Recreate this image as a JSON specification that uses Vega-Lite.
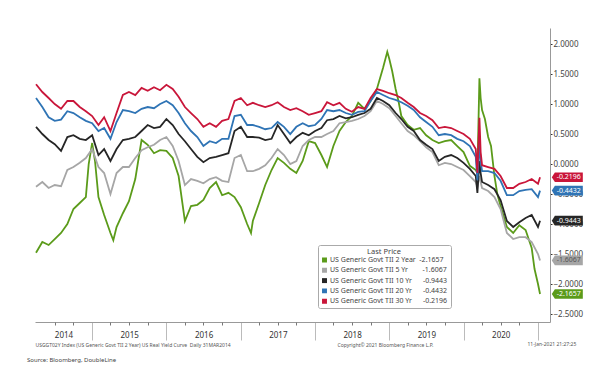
{
  "$schema": "https://vega.github.io/schema/vega-lite/v6.json",
  "width": 515,
  "height": 294,
  "autosize": {"type": "none"},
  "padding": {"left": 35, "top": 28, "right": 50, "bottom": 62},
  "background": "white",
  "config": {"font": "Noto Sans", "view": {"stroke": null}, "axis": {"labelOverlap": false}},
  "title": {"text": "Source: Bloomberg, DoubleLine", "orient": "bottom", "anchor": "start", "fontSize": 6, "fontWeight": "normal", "color": "#444", "dx": -8, "offset": 10},
  "datasets": {
    "series": [
      {"d": "2014-03-31", "g2": -1.48, "g5": -0.38, "g10": 0.62, "g20": 1.10, "g30": 1.33},
      {"d": "2014-05-01", "g2": -1.30, "g5": -0.30, "g10": 0.50, "g20": 0.95, "g30": 1.20},
      {"d": "2014-06-01", "g2": -1.35, "g5": -0.40, "g10": 0.40, "g20": 0.78, "g30": 1.10},
      {"d": "2014-07-01", "g2": -1.25, "g5": -0.35, "g10": 0.33, "g20": 0.72, "g30": 1.00},
      {"d": "2014-08-01", "g2": -1.15, "g5": -0.37, "g10": 0.22, "g20": 0.74, "g30": 0.92},
      {"d": "2014-09-01", "g2": -1.00, "g5": -0.10, "g10": 0.45, "g20": 0.88, "g30": 1.05},
      {"d": "2014-10-01", "g2": -0.75, "g5": -0.05, "g10": 0.48, "g20": 0.85, "g30": 1.05},
      {"d": "2014-11-01", "g2": -0.65, "g5": 0.02, "g10": 0.42, "g20": 0.78, "g30": 0.95},
      {"d": "2014-12-01", "g2": -0.55, "g5": 0.10, "g10": 0.40, "g20": 0.72, "g30": 0.88},
      {"d": "2014-12-15", "g2": 0.00},
      {"d": "2015-01-01", "g2": 0.35, "g5": 0.25, "g10": 0.48, "g20": 0.68, "g30": 0.80},
      {"d": "2015-01-15", "g2": 0.05},
      {"d": "2015-02-01", "g2": -0.55, "g5": -0.05, "g10": 0.15, "g20": 0.55, "g30": 0.65},
      {"d": "2015-03-01", "g2": -0.85, "g5": -0.15, "g10": 0.25, "g20": 0.60, "g30": 0.78},
      {"d": "2015-04-01", "g2": -1.15, "g5": -0.50, "g10": 0.05, "g20": 0.42, "g30": 0.55},
      {"d": "2015-04-15", "g2": -1.27},
      {"d": "2015-05-01", "g2": -1.05, "g5": -0.15, "g10": 0.25, "g20": 0.70, "g30": 0.85},
      {"d": "2015-06-01", "g2": -0.82, "g5": -0.05, "g10": 0.40, "g20": 0.90, "g30": 1.15},
      {"d": "2015-07-01", "g2": -0.62, "g5": -0.05, "g10": 0.42, "g20": 0.88, "g30": 1.20},
      {"d": "2015-08-01", "g2": -0.25, "g5": 0.10, "g10": 0.45, "g20": 0.85, "g30": 1.15},
      {"d": "2015-09-01", "g2": 0.40, "g5": 0.23, "g10": 0.55, "g20": 0.92, "g30": 1.27},
      {"d": "2015-10-01", "g2": 0.32, "g5": 0.28, "g10": 0.65, "g20": 0.95, "g30": 1.22},
      {"d": "2015-11-01", "g2": 0.18, "g5": 0.32, "g10": 0.60, "g20": 0.93, "g30": 1.28},
      {"d": "2015-12-01", "g2": 0.23, "g5": 0.40, "g10": 0.62, "g20": 1.00, "g30": 1.23},
      {"d": "2016-01-01", "g2": 0.22, "g5": 0.45, "g10": 0.75, "g20": 1.05, "g30": 1.32},
      {"d": "2016-02-01", "g2": 0.10, "g5": 0.30, "g10": 0.65, "g20": 0.98, "g30": 1.25},
      {"d": "2016-03-01", "g2": -0.20, "g5": 0.05, "g10": 0.50, "g20": 0.85, "g30": 1.12},
      {"d": "2016-04-01", "g2": -0.95, "g5": -0.35, "g10": 0.38, "g20": 0.68, "g30": 0.95},
      {"d": "2016-05-01", "g2": -0.70, "g5": -0.25, "g10": 0.25, "g20": 0.55, "g30": 0.85},
      {"d": "2016-06-01", "g2": -0.68, "g5": -0.28, "g10": 0.12, "g20": 0.45, "g30": 0.75},
      {"d": "2016-07-01", "g2": -0.60, "g5": -0.32, "g10": 0.03, "g20": 0.30, "g30": 0.62},
      {"d": "2016-08-01", "g2": -0.40, "g5": -0.25, "g10": 0.10, "g20": 0.38, "g30": 0.68},
      {"d": "2016-09-01", "g2": -0.30, "g5": -0.22, "g10": 0.12, "g20": 0.35, "g30": 0.62},
      {"d": "2016-10-01", "g2": -0.52, "g5": -0.28, "g10": 0.15, "g20": 0.42, "g30": 0.72},
      {"d": "2016-11-01", "g2": -0.48, "g5": -0.30, "g10": 0.18, "g20": 0.42, "g30": 0.75},
      {"d": "2016-12-01", "g2": -0.55, "g5": 0.10, "g10": 0.55, "g20": 0.80, "g30": 1.05},
      {"d": "2017-01-01", "g2": -0.72, "g5": 0.15, "g10": 0.62, "g20": 0.82, "g30": 1.10},
      {"d": "2017-02-01", "g2": -1.00, "g5": -0.12, "g10": 0.45, "g20": 0.65, "g30": 0.98},
      {"d": "2017-02-20", "g2": -1.15},
      {"d": "2017-03-01", "g2": -0.95, "g5": -0.12, "g10": 0.45, "g20": 0.65, "g30": 1.02},
      {"d": "2017-04-01", "g2": -0.65, "g5": -0.08, "g10": 0.44, "g20": 0.62, "g30": 0.98},
      {"d": "2017-05-01", "g2": -0.35, "g5": -0.02, "g10": 0.40, "g20": 0.58, "g30": 0.95},
      {"d": "2017-06-01", "g2": -0.10, "g5": 0.10, "g10": 0.42, "g20": 0.60, "g30": 0.98},
      {"d": "2017-07-01", "g2": 0.10, "g5": 0.25, "g10": 0.65, "g20": 0.70, "g30": 1.03},
      {"d": "2017-08-01", "g2": 0.02, "g5": 0.15, "g10": 0.50, "g20": 0.62, "g30": 0.95},
      {"d": "2017-09-01", "g2": -0.08, "g5": 0.00, "g10": 0.35, "g20": 0.50, "g30": 0.90},
      {"d": "2017-10-01", "g2": -0.15, "g5": 0.05, "g10": 0.45, "g20": 0.62, "g30": 0.93},
      {"d": "2017-11-01", "g2": 0.05, "g5": 0.30, "g10": 0.52, "g20": 0.68, "g30": 0.88},
      {"d": "2017-12-01", "g2": 0.38, "g5": 0.40, "g10": 0.48, "g20": 0.63, "g30": 0.82},
      {"d": "2018-01-01", "g2": 0.35, "g5": 0.45, "g10": 0.55, "g20": 0.65, "g30": 0.85},
      {"d": "2018-02-01", "g2": 0.15, "g5": 0.45, "g10": 0.60, "g20": 0.75, "g30": 0.88},
      {"d": "2018-03-01", "g2": -0.05, "g5": 0.50, "g10": 0.73, "g20": 0.90, "g30": 1.03},
      {"d": "2018-04-01", "g2": 0.30, "g5": 0.55, "g10": 0.75, "g20": 0.88, "g30": 0.98},
      {"d": "2018-05-01", "g2": 0.55, "g5": 0.68, "g10": 0.80, "g20": 0.90, "g30": 1.02},
      {"d": "2018-06-01", "g2": 0.70, "g5": 0.70, "g10": 0.76, "g20": 0.85, "g30": 0.92},
      {"d": "2018-07-01", "g2": 0.80, "g5": 0.72, "g10": 0.78, "g20": 0.82, "g30": 0.87},
      {"d": "2018-08-01", "g2": 1.02, "g5": 0.75, "g10": 0.82, "g20": 0.87, "g30": 0.95},
      {"d": "2018-09-01", "g2": 0.92, "g5": 0.80, "g10": 0.85, "g20": 0.88, "g30": 0.92},
      {"d": "2018-10-01", "g2": 1.05, "g5": 0.88, "g10": 0.92, "g20": 1.05, "g30": 1.10},
      {"d": "2018-11-01", "g2": 1.25, "g5": 1.05, "g10": 1.10, "g20": 1.20, "g30": 1.25},
      {"d": "2018-12-01", "g2": 1.60, "g5": 1.00, "g10": 1.05, "g20": 1.15, "g30": 1.22},
      {"d": "2018-12-22", "g2": 1.87},
      {"d": "2019-01-01", "g2": 1.75, "g5": 0.93, "g10": 0.98, "g20": 1.10, "g30": 1.18},
      {"d": "2019-01-15", "g2": 1.55},
      {"d": "2019-02-01", "g2": 1.25, "g5": 0.80, "g10": 0.85, "g20": 1.07, "g30": 1.15},
      {"d": "2019-02-15", "g2": 1.05},
      {"d": "2019-03-01", "g2": 0.80, "g5": 0.68, "g10": 0.75, "g20": 1.03, "g30": 1.10},
      {"d": "2019-04-01", "g2": 0.65, "g5": 0.55, "g10": 0.62, "g20": 0.97, "g30": 1.02},
      {"d": "2019-05-01", "g2": 0.57, "g5": 0.48, "g10": 0.55, "g20": 0.90, "g30": 0.95},
      {"d": "2019-06-01", "g2": 0.60, "g5": 0.38, "g10": 0.40, "g20": 0.78, "g30": 0.85},
      {"d": "2019-07-01", "g2": 0.48, "g5": 0.28, "g10": 0.32, "g20": 0.70, "g30": 0.80},
      {"d": "2019-08-01", "g2": 0.40, "g5": 0.20, "g10": 0.25, "g20": 0.62, "g30": 0.73},
      {"d": "2019-09-01", "g2": 0.35, "g5": -0.02, "g10": 0.05, "g20": 0.48, "g30": 0.60},
      {"d": "2019-10-01", "g2": 0.38, "g5": 0.02, "g10": 0.12, "g20": 0.50, "g30": 0.62},
      {"d": "2019-11-01", "g2": 0.40, "g5": 0.00, "g10": 0.15, "g20": 0.48, "g30": 0.60},
      {"d": "2019-12-01", "g2": 0.30, "g5": -0.05, "g10": 0.10, "g20": 0.42, "g30": 0.55},
      {"d": "2020-01-01", "g2": 0.20, "g5": -0.10, "g10": 0.02, "g20": 0.38, "g30": 0.50},
      {"d": "2020-02-01", "g2": -0.03, "g5": -0.20, "g10": -0.08, "g20": 0.30, "g30": 0.42},
      {"d": "2020-03-01", "g2": -0.10, "g5": -0.30, "g10": -0.20, "g20": 0.12, "g30": 0.25},
      {"d": "2020-03-09", "g2": -0.15, "g5": -0.38, "g10": -0.48, "g20": -0.27, "g30": -0.15},
      {"d": "2020-03-19", "g2": 1.43, "g5": -0.20, "g10": 0.05, "g20": 0.35, "g30": 0.77},
      {"d": "2020-03-25", "g2": 1.10, "g5": -0.30, "g10": -0.15, "g20": 0.05, "g30": 0.20},
      {"d": "2020-04-01", "g2": 0.90, "g5": -0.40, "g10": -0.30, "g20": -0.12, "g30": -0.02},
      {"d": "2020-04-15", "g2": 0.75},
      {"d": "2020-05-01", "g2": 0.45, "g5": -0.45, "g10": -0.35, "g20": -0.12, "g30": -0.05},
      {"d": "2020-05-15", "g2": 0.30},
      {"d": "2020-06-01", "g2": -0.20, "g5": -0.55, "g10": -0.42, "g20": -0.15, "g30": -0.08},
      {"d": "2020-06-15", "g2": -0.50},
      {"d": "2020-07-01", "g2": -0.70, "g5": -0.75, "g10": -0.60, "g20": -0.28, "g30": -0.20},
      {"d": "2020-08-01", "g2": -1.05, "g5": -1.15, "g10": -0.95, "g20": -0.52, "g30": -0.40},
      {"d": "2020-09-01", "g2": -1.15, "g5": -1.25, "g10": -1.05, "g20": -0.52, "g30": -0.40},
      {"d": "2020-10-01", "g2": -1.02, "g5": -1.22, "g10": -0.97, "g20": -0.45, "g30": -0.33},
      {"d": "2020-11-01", "g2": -1.10, "g5": -1.22, "g10": -0.90, "g20": -0.43, "g30": -0.30},
      {"d": "2020-12-01", "g2": -1.40, "g5": -1.30, "g10": -0.85, "g20": -0.42, "g30": -0.25},
      {"d": "2020-12-15", "g2": -1.75},
      {"d": "2021-01-01", "g2": -2.00, "g5": -1.50, "g10": -1.05, "g20": -0.55, "g30": -0.33},
      {"d": "2021-01-11", "g2": -2.1657, "g5": -1.6067, "g10": -0.9443, "g20": -0.4432, "g30": -0.2196}
    ],
    "last": [
      {"s": "g2", "v": -2.1657, "t": "-2.1657", "d": "2021-05-25"},
      {"s": "g5", "v": -1.6067, "t": "-1.6067", "d": "2021-05-25"},
      {"s": "g10", "v": -0.9443, "t": "-0.9443", "d": "2021-05-25"},
      {"s": "g20", "v": -0.4432, "t": "-0.4432", "d": "2021-05-25"},
      {"s": "g30", "v": -0.2196, "t": "-0.2196", "d": "2021-05-25"}
    ]
  },
  "resolve": {"axis": {"x": "independent"}},
  "layer": [
    {
      "data": {"name": "series"},
      "transform": [
        {"fold": ["g2", "g5", "g10", "g20", "g30"], "as": ["s", "v"]},
        {"filter": "isValid(datum.v)"}
      ],
      "mark": {"type": "line", "strokeWidth": 1.8, "clip": true},
      "encoding": {
        "x": {
          "field": "d", "type": "temporal",
          "scale": {"domain": [{"year": 2014, "month": 3, "date": 26}, {"year": 2021, "month": 3, "date": 1}]},
          "axis": {
            "orient": "bottom",
            "values": [{"year": 2015, "month": 1, "date": 1}, {"year": 2016, "month": 1, "date": 1}, {"year": 2017, "month": 1, "date": 1}, {"year": 2018, "month": 1, "date": 1}, {"year": 2019, "month": 1, "date": 1}, {"year": 2020, "month": 1, "date": 1}, {"year": 2021, "month": 1, "date": 1}],
            "labels": false, "grid": false, "tickSize": 18, "tickColor": "#bbb", "domainColor": "#999",
            "title": "USGGT02Y Index (US Generic Govt TII 2 Year) US Real Yield Curve \u00a0Daily 31MAR2014",
            "titleAnchor": "start", "titleAlign": "left", "titleX": 0, "titleY": 22, "titleBaseline": "middle",
            "titleFontSize": 5, "titleFontWeight": "normal", "titleColor": "#555"
          }
        },
        "y": {
          "field": "v", "type": "quantitative",
          "scale": {"domain": [-2.633, 2.267], "nice": false, "zero": false},
          "axis": {
            "orient": "right", "values": [-2.5, -2, -1.5, -1, -0.5, 0, 0.5, 1, 1.5, 2], "format": ".4f",
            "labelOverlap": false,
            "grid": false, "domainColor": "#999", "tickColor": "#333", "tickSize": 2,
            "labelFontSize": 8, "labelColor": "#444", "labelPadding": 1, "title": null
          }
        },
        "color": {
          "field": "s", "type": "nominal",
          "scale": {"domain": ["g2", "g5", "g10", "g20", "g30"], "range": ["#5b9b1a", "#a6a6a6", "#262626", "#2f74b5", "#c9163a"]},
          "legend": {
            "orient": "none", "legendX": 283, "legendY": 217,
            "title": "Last Price", "titleAnchor": "middle", "titleFontSize": 7.5, "titleFontWeight": "normal", "titleColor": "#444", "titlePadding": 1,
            "labelFontSize": 7, "labelColor": "#444", "labelLimit": 300, "labelOffset": 2,
            "labelExpr": "datum.label == 'g2' ? 'US Generic Govt TII 2 Year\u00a0\u00a0-2.1657' : datum.label == 'g5' ? 'US Generic Govt TII 5 Yr\u00a0\u00a0\u00a0\u00a0\u00a0\u00a0\u00a0\u00a0-1.6067' : datum.label == 'g10' ? 'US Generic Govt TII 10 Yr\u00a0\u00a0\u00a0\u00a0\u00a0\u00a0-0.9443' : datum.label == 'g20' ? 'US Generic Govt TII 20 Yr\u00a0\u00a0\u00a0\u00a0\u00a0\u00a0-0.4432' : 'US Generic Govt TII 30 Yr\u00a0\u00a0\u00a0\u00a0\u00a0\u00a0-0.2196'",
            "symbolType": "square", "symbolSize": 6, "symbolStrokeWidth": 2.5, "rowPadding": 2.3, "clipHeight": 7,
            "fillColor": "white", "strokeColor": "#aaa", "padding": 3, "cornerRadius": 2
          }
        }
      }
    },
    {
      "data": {"name": "last"},
      "mark": {"type": "point", "shape": "M-1,0L-0.8,-0.31L1,-0.31L1,0.31L-0.8,0.31Z", "size": 961, "filled": true, "opacity": 1, "strokeWidth": 0},
      "encoding": {
        "x": {
          "field": "d", "type": "temporal",
          "axis": {
            "orient": "bottom",
            "values": [{"year": 2014, "month": 8, "date": 13}, {"year": 2015, "month": 7, "date": 2}, {"year": 2016, "month": 7, "date": 2}, {"year": 2017, "month": 7, "date": 2}, {"year": 2018, "month": 7, "date": 2}, {"year": 2019, "month": 7, "date": 2}, {"year": 2020, "month": 7, "date": 2}],
            "format": "%Y", "ticks": false, "domain": false, "grid": false, "labelFlush": false,
            "labelFontSize": 8, "labelColor": "#333", "labelPadding": 9,
            "title": "Copyright\u00a9 2021 Bloomberg Finance L.P.",
            "titleAnchor": "start", "titleAlign": "left", "titleX": 302, "titleY": 22, "titleBaseline": "middle",
            "titleFontSize": 5, "titleFontWeight": "normal", "titleColor": "#555"
          }
        },
        "y": {
          "field": "v", "type": "quantitative",
          "axis": {
            "orient": "right", "values": [-2.5, -2, -1.5, -1, -0.5, 0, 0.5, 1, 1.5, 2], "format": ".4f",
            "labelOverlap": false,
            "grid": false, "domainColor": "#999", "tickColor": "#333", "tickSize": 2,
            "labelFontSize": 8, "labelColor": "#444", "labelPadding": 1, "title": null
          }
        },
        "color": {"field": "s", "type": "nominal", "legend": null}
      }
    },
    {
      "data": {"name": "last"},
      "mark": {"type": "text", "fontSize": 7, "dx": 1.5, "align": "center", "baseline": "middle"},
      "encoding": {
        "x": {
          "field": "d", "type": "temporal",
          "axis": {
            "orient": "bottom",
            "values": [{"year": 2014, "month": 7, "date": 1}, {"year": 2014, "month": 10, "date": 1}, {"year": 2015, "month": 4, "date": 1}, {"year": 2015, "month": 7, "date": 1}, {"year": 2015, "month": 10, "date": 1}, {"year": 2016, "month": 4, "date": 1}, {"year": 2016, "month": 7, "date": 1}, {"year": 2016, "month": 10, "date": 1}, {"year": 2017, "month": 4, "date": 1}, {"year": 2017, "month": 7, "date": 1}, {"year": 2017, "month": 10, "date": 1}, {"year": 2018, "month": 4, "date": 1}, {"year": 2018, "month": 7, "date": 1}, {"year": 2018, "month": 10, "date": 1}, {"year": 2019, "month": 4, "date": 1}, {"year": 2019, "month": 7, "date": 1}, {"year": 2019, "month": 10, "date": 1}, {"year": 2020, "month": 4, "date": 1}, {"year": 2020, "month": 7, "date": 1}, {"year": 2020, "month": 10, "date": 1}],
            "labels": false, "domain": false, "grid": false, "tickSize": 3, "tickColor": "#777",
            "title": "11-Jan-2021 21:27:25",
            "titleAnchor": "start", "titleAlign": "left", "titleX": 492, "titleY": 21, "titleBaseline": "middle",
            "titleFontSize": 5, "titleFontWeight": "normal", "titleColor": "#555"
          }
        },
        "y": {
          "field": "v", "type": "quantitative",
          "axis": {
            "orient": "right", "values": [-2.5, -2, -1.5, -1, -0.5, 0, 0.5, 1, 1.5, 2], "format": ".4f",
            "labelOverlap": false,
            "grid": false, "domainColor": "#999", "tickColor": "#333", "tickSize": 2,
            "labelFontSize": 8, "labelColor": "#444", "labelPadding": 1, "title": null
          }
        },
        "text": {"field": "t"},
        "color": {"condition": {"test": "datum.s === 'g5'", "value": "#555"}, "value": "white"}
      }
    }
  ]
}
